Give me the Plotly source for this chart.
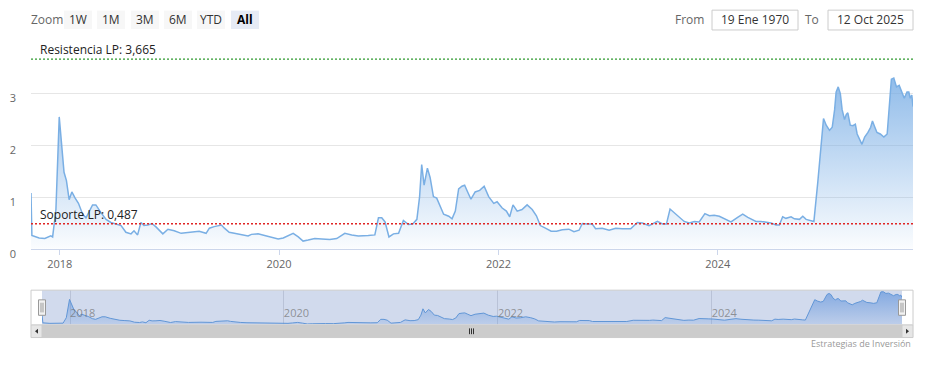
import plotly.graph_objects as go

# ---------------- data ----------------
dates = [
    "2017-09-27", "2017-09-30", "2017-10-24", "2017-11-12", "2017-12-02", "2017-12-08",
    "2017-12-19", "2017-12-30", "2018-01-15", "2018-01-23", "2018-02-01", "2018-02-10",
    "2018-02-21", "2018-03-04", "2018-03-18", "2018-03-29", "2018-04-20", "2018-05-01",
    "2018-05-18", "2018-06-04", "2018-06-20", "2018-07-07", "2018-07-24", "2018-08-09",
    "2018-08-26", "2018-09-05", "2018-09-17", "2018-09-28", "2018-10-08", "2018-10-21",
    "2018-11-04", "2018-11-18", "2018-12-10", "2018-12-27", "2019-01-17", "2019-02-09",
    "2019-03-24", "2019-04-10", "2019-05-03", "2019-05-14", "2019-05-30", "2019-06-23",
    "2019-07-03", "2019-07-19", "2019-08-05", "2019-08-28", "2019-09-20", "2019-10-01",
    "2019-10-23", "2019-11-14", "2019-12-07", "2019-12-29", "2020-01-15", "2020-01-31",
    "2020-02-17", "2020-03-05", "2020-03-21", "2020-04-07", "2020-04-29", "2020-05-22",
    "2020-06-18", "2020-07-11", "2020-07-27", "2020-08-07", "2020-08-30", "2020-09-21",
    "2020-10-24", "2020-11-15", "2020-11-27", "2020-12-08", "2020-12-19", "2021-01-01",
    "2021-01-16", "2021-02-02", "2021-02-18", "2021-03-07", "2021-03-21", "2021-04-04",
    "2021-04-13", "2021-04-20", "2021-04-28", "2021-05-09", "2021-05-18", "2021-05-29",
    "2021-06-09", "2021-06-20", "2021-07-02", "2021-07-19", "2021-07-30", "2021-08-10",
    "2021-08-21", "2021-09-01", "2021-09-10", "2021-09-20", "2021-10-01", "2021-10-15",
    "2021-10-30", "2021-11-14", "2021-11-29", "2021-12-16", "2021-12-27", "2022-01-13",
    "2022-01-27", "2022-02-07", "2022-02-18", "2022-03-04", "2022-03-20", "2022-04-06",
    "2022-04-23", "2022-05-07", "2022-05-20", "2022-06-06", "2022-06-25", "2022-07-13",
    "2022-08-01", "2022-08-23", "2022-09-09", "2022-09-26", "2022-10-07", "2022-10-23",
    "2022-11-09", "2022-11-20", "2022-12-12", "2023-01-04", "2023-01-26", "2023-02-17",
    "2023-03-17", "2023-04-08", "2023-04-25", "2023-05-17", "2023-06-03", "2023-06-14",
    "2023-07-01", "2023-07-14", "2023-07-26", "2023-08-09", "2023-08-26", "2023-09-11",
    "2023-09-28", "2023-10-15", "2023-10-31", "2023-11-19", "2023-12-04", "2023-12-20",
    "2024-01-06", "2024-01-23", "2024-02-14", "2024-03-07", "2024-03-24", "2024-04-10",
    "2024-04-26", "2024-05-07", "2024-05-24", "2024-06-10", "2024-06-26", "2024-07-13",
    "2024-07-24", "2024-08-04", "2024-08-15", "2024-09-01", "2024-09-12", "2024-09-29",
    "2024-10-10", "2024-10-21", "2024-11-07", "2024-11-16", "2024-11-29", "2024-12-10",
    "2024-12-18", "2024-12-27", "2025-01-07", "2025-01-16", "2025-01-24", "2025-01-29",
    "2025-02-05", "2025-02-12", "2025-02-18", "2025-02-26", "2025-03-04", "2025-03-09",
    "2025-03-17", "2025-03-26", "2025-04-03", "2025-04-09", "2025-04-19", "2025-04-25",
    "2025-05-04", "2025-05-15", "2025-05-24", "2025-05-30", "2025-06-07", "2025-06-14",
    "2025-06-25", "2025-07-07", "2025-07-18", "2025-07-24", "2025-08-01", "2025-08-09",
    "2025-08-18", "2025-08-27", "2025-09-05", "2025-09-13", "2025-09-22", "2025-09-28",
    "2025-10-03", "2025-10-08", "2025-10-12",
]
values = [
    1.08, 0.26, 0.21, 0.20, 0.25, 0.23,
    0.76, 2.55, 1.48, 1.32, 0.95, 1.10,
    0.98, 0.88, 0.67, 0.60, 0.85, 0.85,
    0.70, 0.57, 0.51, 0.48, 0.45, 0.32,
    0.29, 0.35, 0.27, 0.51, 0.45, 0.46,
    0.49, 0.42, 0.29, 0.38, 0.35, 0.30,
    0.32, 0.34, 0.30, 0.40, 0.43, 0.46,
    0.40, 0.32, 0.30, 0.27, 0.25, 0.28,
    0.29, 0.26, 0.22, 0.19, 0.21, 0.25,
    0.30, 0.23, 0.15, 0.17, 0.20, 0.19,
    0.18, 0.20, 0.26, 0.30, 0.27, 0.25,
    0.26, 0.27, 0.60, 0.60, 0.52, 0.23,
    0.29, 0.30, 0.55, 0.47, 0.48, 0.57,
    1.01, 1.63, 1.23, 1.56, 1.38, 1.01,
    0.98, 0.82, 0.67, 0.63, 0.58, 0.73,
    1.16, 1.21, 1.23, 1.10, 0.96, 1.10,
    1.13, 1.21, 1.01, 0.88, 0.91, 0.79,
    0.73, 0.62, 0.85, 0.73, 0.76, 0.85,
    0.76, 0.64, 0.45, 0.40, 0.34, 0.34,
    0.37, 0.38, 0.33, 0.36, 0.49, 0.48,
    0.48, 0.39, 0.40, 0.36, 0.40, 0.39,
    0.39, 0.51, 0.50, 0.45, 0.50, 0.53,
    0.48, 0.48, 0.77, 0.70, 0.60, 0.53,
    0.50, 0.53, 0.52, 0.68, 0.64, 0.65,
    0.63, 0.58, 0.52, 0.61, 0.67, 0.61,
    0.57, 0.53, 0.53, 0.52, 0.50, 0.46,
    0.46, 0.62, 0.59, 0.62, 0.58, 0.57,
    0.63, 0.57, 0.55, 0.53, 1.29, 2.00,
    2.52, 2.39, 2.29, 2.35, 2.69, 3.03,
    3.13, 3.00, 2.69, 2.50, 2.60, 2.63,
    2.39, 2.38, 2.41, 2.22, 2.08, 2.02,
    2.16, 2.25, 2.35, 2.47, 2.35, 2.25,
    2.22, 2.16, 2.22, 2.69, 3.28, 3.30,
    3.13, 3.16, 3.03, 2.91, 3.03, 3.03,
    2.91, 2.97, 2.75,
]

resistance_value = 3.665
support_value = 0.487
resistance_label = "Resistencia LP: 3,665"
support_label = "Soporte LP: 0,487"
y_tickvals = [0, 1, 2, 3, 4]
y_ticktext = ["0", "1", "2", "3", ""]
zoom_buttons = ["1W", "1M", "3M", "6M", "YTD", "All"]
from_text = "19 Ene 1970"
to_text = "12 Oct 2025"
credit_text = "Estrategias de Inversión"

# ---------------- layout helpers ----------------
W, H = 929, 366
FONT = "Open Sans"


def px(x):
    return x / W


def py(y):
    return 1 - y / H


fig = go.Figure()

# main series
fig.add_trace(go.Scatter(
    x=dates, y=values, mode="lines", xaxis="x", yaxis="y",
    line=dict(color="#7aafe4", width=1.5),
    fill="tozeroy",
    fillgradient=dict(type="vertical", start=0, stop=3.3,
                      colorscale=[[0, "rgba(115,170,228,0.0)"],
                                  [1, "rgba(115,170,228,0.78)"]]),
    hoverinfo="skip", showlegend=False,
))

# navigator series
fig.add_trace(go.Scatter(
    x=dates, y=values, mode="lines", xaxis="x2", yaxis="y2",
    line=dict(color="#6196d6", width=1),
    fill="tozeroy",
    fillgradient=dict(type="vertical", start=0, stop=3.3,
                      colorscale=[[0, "rgba(100,150,220,0.15)"],
                                  [1, "rgba(100,150,220,0.7)"]]),
    hoverinfo="skip", showlegend=False,
))

shapes = []
annotations = []

# resistance / support lines (drawn above the series)
shapes.append(dict(type="line", xref="x domain", yref="y", x0=0, x1=1,
                   y0=resistance_value, y1=resistance_value, layer="above",
                   line=dict(color="#2f9a2f", width=1.3, dash="2px,2px")))
shapes.append(dict(type="line", xref="x domain", yref="y", x0=0, x1=1,
                   y0=support_value, y1=support_value, layer="above",
                   line=dict(color="#e02424", width=1.5, dash="2px,2px")))
annotations.append(dict(xref="paper", yref="y", x=px(38), y=resistance_value,
                        xanchor="left", yanchor="bottom", yshift=-1, showarrow=False,
                        text=resistance_label, font=dict(family=FONT, size=12, color="#222")))
annotations.append(dict(xref="paper", yref="y", x=px(38), y=support_value,
                        xanchor="left", yanchor="bottom", yshift=-1, showarrow=False,
                        text=support_label, font=dict(family=FONT, size=12, color="#222")))

# range selector (static)
annotations.append(dict(xref="paper", yref="paper", x=px(29), y=py(20), xanchor="left",
                        yanchor="middle", showarrow=False, text="Zoom",
                        font=dict(family=FONT, size=12, color="#666")))
bx = [64, 97, 131, 164, 197, 231]
for i, lab in enumerate(zoom_buttons):
    sel = lab == "All"
    shapes.append(dict(type="rect", xref="paper", yref="paper",
                       x0=px(bx[i]), x1=px(bx[i] + 28), y0=py(30), y1=py(11),
                       fillcolor="#e6ebf5" if sel else "#f7f7f7", line=dict(width=0),
                       layer="below"))
    annotations.append(dict(xref="paper", yref="paper", x=px(bx[i] + 14), y=py(20),
                            xanchor="center", yanchor="middle", showarrow=False,
                            text=f"<b>{lab}</b>" if sel else lab,
                            font=dict(family=FONT, size=12, color="#000" if sel else "#333")))

# From / To inputs
annotations.append(dict(xref="paper", yref="paper", x=px(706), y=py(20), xanchor="right",
                        yanchor="middle", showarrow=False, text="From",
                        font=dict(family=FONT, size=12, color="#666")))
shapes.append(dict(type="rect", xref="paper", yref="paper", x0=px(712), x1=px(798),
                   y0=py(31), y1=py(10.5), fillcolor="white",
                   line=dict(color="#cccccc", width=1)))
annotations.append(dict(xref="paper", yref="paper", x=px(755), y=py(20), xanchor="center",
                        yanchor="middle", showarrow=False, text=from_text,
                        font=dict(family=FONT, size=12, color="#333")))
annotations.append(dict(xref="paper", yref="paper", x=px(821), y=py(20), xanchor="right",
                        yanchor="middle", showarrow=False, text="To",
                        font=dict(family=FONT, size=12, color="#666")))
shapes.append(dict(type="rect", xref="paper", yref="paper", x0=px(828), x1=px(913),
                   y0=py(31), y1=py(10.5), fillcolor="white",
                   line=dict(color="#cccccc", width=1)))
annotations.append(dict(xref="paper", yref="paper", x=px(870.5), y=py(20), xanchor="center",
                        yanchor="middle", showarrow=False, text=to_text,
                        font=dict(family=FONT, size=12, color="#333")))

# navigator mask + outline
NAV_TOP, NAV_BOT = 300, 336
shapes.append(dict(type="rect", xref="paper", yref="paper", x0=px(42), x1=px(902),
                   y0=py(NAV_BOT), y1=py(NAV_TOP), fillcolor="rgba(102,133,194,0.3)",
                   line=dict(width=0), layer="below"))
shapes.append(dict(type="rect", xref="paper", yref="paper", x0=px(31), x1=px(913),
                   y0=py(NAV_BOT), y1=py(NAV_TOP), fillcolor="rgba(0,0,0,0)",
                   line=dict(color="#cccccc", width=1)))
# handles
for hx in (42, 902):
    shapes.append(dict(type="rect", xref="paper", yref="paper", x0=px(hx - 3.5), x1=px(hx + 3.5),
                       y0=py(326), y1=py(310), fillcolor="#f2f2f2",
                       line=dict(color="#999999", width=1)))
    for dx in (-1, 1):
        shapes.append(dict(type="line", xref="paper", yref="paper", x0=px(hx + dx), x1=px(hx + dx),
                           y0=py(323), y1=py(313), line=dict(color="#999999", width=1)))

# scrollbar
SB_TOP, SB_BOT = 336, 349
shapes.append(dict(type="rect", xref="paper", yref="paper", x0=px(31), x1=px(913),
                   y0=py(SB_BOT), y1=py(SB_TOP), fillcolor="#f2f2f2",
                   line=dict(color="#f2f2f2", width=1)))
shapes.append(dict(type="rect", xref="paper", yref="paper", x0=px(42), x1=px(902),
                   y0=py(SB_BOT), y1=py(SB_TOP), fillcolor="#cccccc",
                   line=dict(color="#cccccc", width=1)))
for x0 in (31, 902):
    shapes.append(dict(type="rect", xref="paper", yref="paper", x0=px(x0), x1=px(x0 + 11),
                       y0=py(SB_BOT), y1=py(SB_TOP), fillcolor="#e6e6e6",
                       line=dict(color="#cccccc", width=1)))
shapes.append(dict(type="path", xref="paper", yref="paper",
                   path=f"M {px(38)} {py(340)} L {px(38)} {py(345)} L {px(35)} {py(342.5)} Z",
                   fillcolor="#333", line=dict(width=0)))
shapes.append(dict(type="path", xref="paper", yref="paper",
                   path=f"M {px(906)} {py(340)} L {px(906)} {py(345)} L {px(909)} {py(342.5)} Z",
                   fillcolor="#333", line=dict(width=0)))
for gx in (469.5, 471.5, 473.5):
    shapes.append(dict(type="line", xref="paper", yref="paper", x0=px(gx), x1=px(gx),
                       y0=py(345.5), y1=py(339.5), line=dict(color="#333", width=1)))

# credits
annotations.append(dict(xref="paper", yref="paper", x=px(913), y=py(355.5), xanchor="right",
                        yanchor="middle", showarrow=False, text=credit_text,
                        font=dict(family=FONT, size=9, color="#999")))

fig.update_layout(
    width=W, height=H, margin=dict(l=0, r=0, t=0, b=0),
    paper_bgcolor="white", plot_bgcolor="rgba(0,0,0,0)",
    showlegend=False,
    xaxis=dict(domain=[px(31), px(913)], range=[dates[0], dates[-1]], type="date",
               showgrid=False, zeroline=False, showline=True, linecolor="#ccd6eb",
               ticks="outside", ticklen=5, tickcolor="#ccd6eb",
               dtick="M24", tick0="2018-01-01", tickformat="%Y",
               tickfont=dict(family=FONT, size=11, color="#666"),
               fixedrange=True),
    yaxis=dict(domain=[py(257.3), py(43.3)], range=[0, 4],
               tickvals=y_tickvals, ticktext=y_ticktext,
               showgrid=True, gridcolor="#e6e6e6", zeroline=False, showline=False,
               ticklabelshift=5, ticklabelstandoff=14,
               tickfont=dict(family=FONT, size=11, color="#666"),
               fixedrange=True),
    xaxis2=dict(domain=[px(42), px(902)], range=[dates[0], dates[-1]], type="date",
                anchor="y2", showgrid=True, gridcolor="rgba(140,150,175,0.35)",
                zeroline=False, showline=False, ticks="",
                dtick="M24", tick0="2018-01-01", tickformat="%Y",
                ticklabelposition="inside right",
                tickfont=dict(family=FONT, size=11, color="rgba(110,110,110,0.7)"),
                fixedrange=True),
    yaxis2=dict(domain=[py(NAV_BOT), py(NAV_TOP)], range=[0.05, 3.45], anchor="x2",
                showgrid=False, showticklabels=False, zeroline=False, fixedrange=True),
    shapes=shapes, annotations=annotations,
)

fig.write_html("out.html", config={"displayModeBar": False})
